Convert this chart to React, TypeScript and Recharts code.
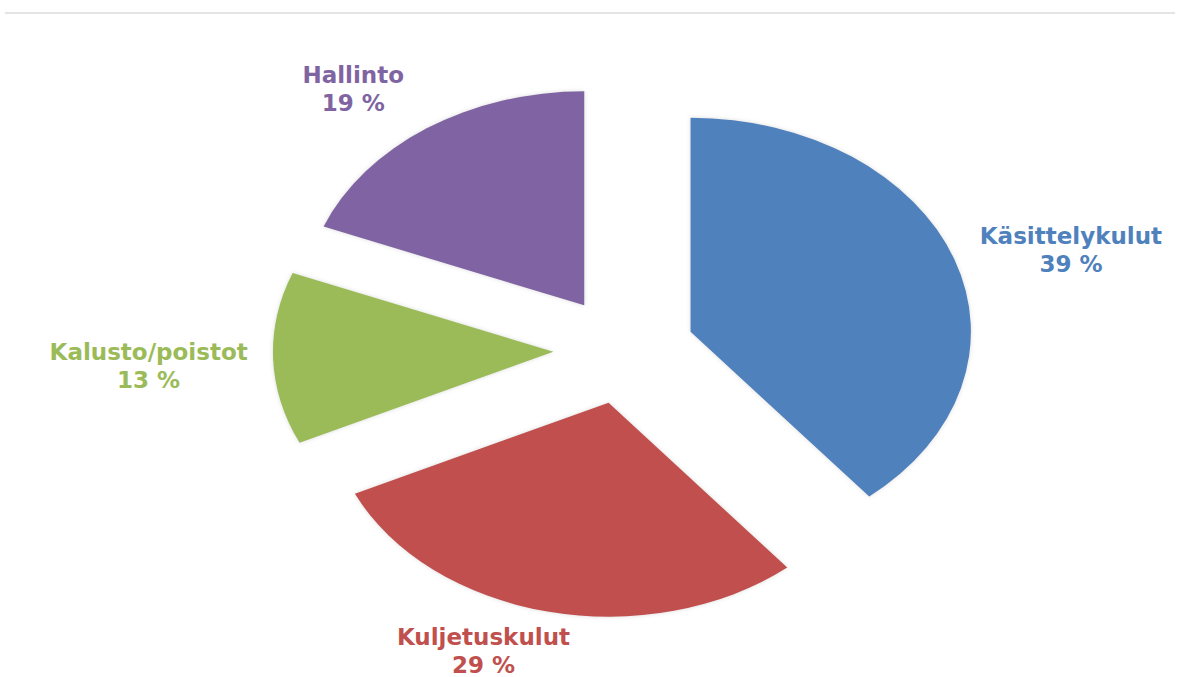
import { Cell, Pie, PieChart } from 'recharts';

const categories = ['Käsittelykulut', 'Kuljetuskulut', 'Kalusto/poistot', 'Hallinto'];
const shares = [39, 29, 13, 19];
const colors = ['#4F81BD', '#C0504D', '#9BBB59', '#8064A2'];

const data = categories.map((name, i) => ({ name, value: shares[i] }));

// small hand nudges for the label blocks (px), same order as categories
const labelNudge = [
    [7, 20],
    [-48, -15],
    [-6, 4],
    [-30, 9],
];

const RAD = Math.PI / 180;
const SX = 1.31; // horizontal stretch of the pie
const EXPLODE = 54;
const GAP = 14;
const FONT = '"DejaVu Sans", sans-serif';
const FONT_SIZE = 23;

let ctx: CanvasRenderingContext2D | null = null;
function textWidth(s: string) {
    if (!ctx) ctx = document.createElement('canvas').getContext('2d');
    if (!ctx) return s.length * FONT_SIZE * 0.6;
    ctx.font = `700 ${FONT_SIZE}px ${FONT}`;
    return ctx.measureText(s).width;
}

function pt(cx: number, cy: number, angle: number, r: number) {
    return [cx + SX * r * Math.cos(-angle * RAD), cy + r * Math.sin(-angle * RAD)];
}

function EllipseSector(props: any) {
    const { cx, cy, outerRadius, startAngle, endAngle, midAngle, fill } = props;
    const [ox, oy] = pt(0, 0, midAngle, EXPLODE);
    const [x0, y0] = pt(cx + ox, cy + oy, startAngle, outerRadius);
    const [x1, y1] = pt(cx + ox, cy + oy, endAngle, outerRadius);
    const large = Math.abs(endAngle - startAngle) > 180 ? 1 : 0;
    const d = `M${cx + ox},${cy + oy} L${x0},${y0} A${SX * outerRadius},${outerRadius} 0 ${large} 1 ${x1},${y1} Z`;
    return <path d={d} fill={fill} stroke="none" filter="url(#soft)" />;
}

function renderLabel(props: any) {
    const { cx, cy, midAngle, outerRadius, index } = props;
    const name = categories[index];
    const w = textWidth(name);
    const h = 56;
    const hx = Math.abs(Math.cos(-midAngle * RAD));
    const vy = Math.abs(Math.sin(-midAngle * RAD));
    const r = outerRadius + EXPLODE + GAP + (hx * w) / 2 / SX + (vy * h) / 2;
    let [x, y] = pt(cx, cy, midAngle, r);
    x += labelNudge[index][0];
    y += labelNudge[index][1];
    return (
        <text
            x={x}
            y={y}
            textAnchor="middle"
            fill={colors[index]}
            style={{ fontFamily: FONT, fontSize: FONT_SIZE, fontWeight: 700 }}
        >
            <tspan x={x} y={y - 5.5}>{name}</tspan>
            <tspan x={x} y={y + 22.5}>{`${shares[index]} %`}</tspan>
        </text>
    );
}

function App() {
    return (
        <div style={{ position: 'absolute', left: 0, top: 0, width: 1180, height: 677, background: '#fff' }}>
            <div
                style={{
                    position: 'absolute',
                    left: 5,
                    top: 12,
                    width: 1170,
                    height: 0,
                    borderTop: '2px solid #e4e4e4',
                }}
            />
            <PieChart width={1180} height={677}>
                <defs>
                    <filter id="soft" x="-10%" y="-10%" width="120%" height="120%">
                        <feDropShadow dx="0" dy="0" stdDeviation="2" floodColor="#999" floodOpacity="0.35" />
                    </filter>
                </defs>
                <Pie
                    data={data}
                    dataKey="value"
                    nameKey="name"
                    cx={619}
                    cy={345}
                    outerRadius={214}
                    startAngle={90}
                    endAngle={-270}
                    stroke="none"
                    isAnimationActive={false}
                    labelLine={false}
                    label={renderLabel}
                    inactiveShape={EllipseSector}
                    activeShape={EllipseSector}
                    shape={EllipseSector}
                >
                    {data.map((entry, i) => (
                        <Cell key={`cell-${i}`} name={entry.name} fill={colors[i]} />
                    ))}
                </Pie>
            </PieChart>
        </div>
    );
}

export default App;
